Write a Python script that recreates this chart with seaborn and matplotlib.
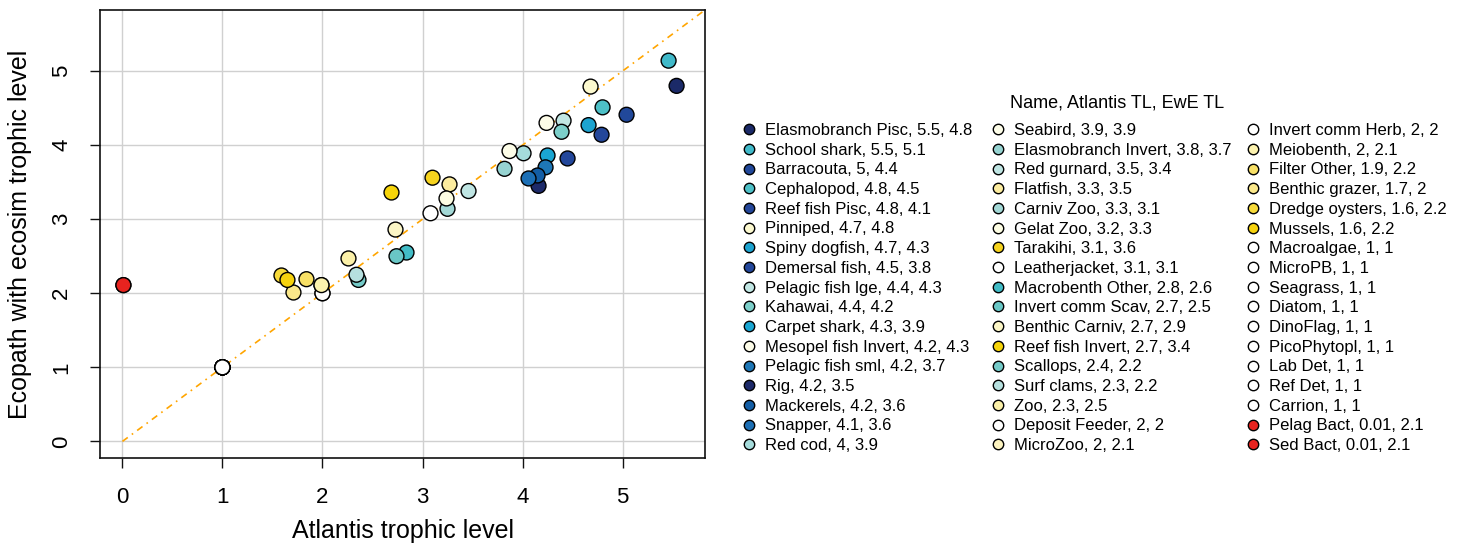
import numpy as np
import pandas as pd
import matplotlib
matplotlib.use("Agg")
import matplotlib.pyplot as plt
from matplotlib.lines import Line2D
import seaborn as sns

sns.set_style("white")
plt.rcParams['font.family'] = ['Liberation Sans', 'DejaVu Sans']
plt.rcParams['text.color'] = 'black'
plt.rcParams['axes.labelcolor'] = 'black'
plt.rcParams['xtick.color'] = 'black'
plt.rcParams['ytick.color'] = 'black'

names = ["Elasmobranch Pisc", "School shark", "Barracouta", "Cephalopod", "Reef fish Pisc",
         "Pinniped", "Spiny dogfish", "Demersal fish", "Pelagic fish lge", "Kahawai",
         "Carpet shark", "Mesopel fish Invert", "Pelagic fish sml", "Rig", "Mackerels",
         "Snapper", "Red cod",
         "Seabird", "Elasmobranch Invert", "Red gurnard", "Flatfish", "Carniv Zoo",
         "Gelat Zoo", "Tarakihi", "Leatherjacket", "Macrobenth Other", "Invert comm Scav",
         "Benthic Carniv", "Reef fish Invert", "Scallops", "Surf clams", "Zoo",
         "Deposit Feeder", "MicroZoo",
         "Invert comm Herb", "Meiobenth", "Filter Other", "Benthic grazer", "Dredge oysters",
         "Mussels", "Macroalgae", "MicroPB", "Seagrass", "Diatom", "DinoFlag",
         "PicoPhytopl", "Lab Det", "Ref Det", "Carrion", "Pelag Bact", "Sed Bact"]

atlantis_tl = [5.54, 5.46, 5.04, 4.80, 4.79, 4.68, 4.66, 4.45, 4.41, 4.39,
               4.25, 4.24, 4.23, 4.16, 4.15, 4.06, 4.01,
               3.87, 3.82, 3.46, 3.27, 3.25, 3.24, 3.10, 3.08, 2.84, 2.74,
               2.73, 2.69, 2.36, 2.34, 2.26, 2.00, 1.99,
               2.00, 1.99, 1.84, 1.71, 1.59, 1.65, 1, 1, 1, 1, 1,
               1, 1, 1, 1, 0.01, 0.01]

ewe_tl = [4.80, 5.14, 4.41, 4.51, 4.14, 4.79, 4.27, 3.82, 4.33, 4.18,
          3.86, 4.30, 3.70, 3.45, 3.59, 3.55, 3.89,
          3.92, 3.68, 3.38, 3.47, 3.14, 3.28, 3.56, 3.08, 2.55, 2.50,
          2.86, 3.36, 2.18, 2.25, 2.47, 2.00, 2.11,
          2.00, 2.11, 2.19, 2.01, 2.24, 2.18, 1, 1, 1, 1, 1,
          1, 1, 1, 1, 2.11, 2.11]

atlantis_lbl = ["5.5", "5.5", "5", "4.8", "4.8", "4.7", "4.7", "4.5", "4.4", "4.4",
                "4.3", "4.2", "4.2", "4.2", "4.2", "4.1", "4",
                "3.9", "3.8", "3.5", "3.3", "3.3", "3.2", "3.1", "3.1", "2.8", "2.7",
                "2.7", "2.7", "2.4", "2.3", "2.3", "2", "2",
                "2", "2", "1.9", "1.7", "1.6", "1.6", "1", "1", "1", "1", "1",
                "1", "1", "1", "1", "0.01", "0.01"]

ewe_lbl = ["4.8", "5.1", "4.4", "4.5", "4.1", "4.8", "4.3", "3.8", "4.3", "4.2",
           "3.9", "4.3", "3.7", "3.5", "3.6", "3.6", "3.9",
           "3.9", "3.7", "3.4", "3.5", "3.1", "3.3", "3.6", "3.1", "2.6", "2.5",
           "2.9", "3.4", "2.2", "2.2", "2.5", "2", "2.1",
           "2", "2.1", "2.2", "2", "2.2", "2.2", "1", "1", "1", "1", "1",
           "1", "1", "1", "1", "2.1", "2.1"]

colors = ["#1b2a68", "#40b9c9", "#21489a", "#4dc0c7", "#24479a", "#fcf9cf", "#1ca3d0",
          "#23479b", "#c1e6e3", "#7ccfca", "#1aa6d3", "#fdfce8", "#1e77b7", "#1d2a6a",
          "#135ea6", "#1c6fb5", "#a5dbdb",
          "#fdfde8", "#97d4d2", "#bfe5e3", "#fcec9f", "#a3d8d6", "#fdfde3", "#f6d31e",
          "#ffffff", "#42bcc6", "#69c7c6", "#fcf6c6", "#f6d40a", "#74cac8", "#b6e0df",
          "#fbf0a8", "#ffffff", "#fdf4c0",
          "#ffffff", "#fcf2ae", "#f8e066", "#fbe88a", "#f7da3a", "#f6d20e", "#ffffff",
          "#ffffff", "#ffffff", "#ffffff", "#ffffff", "#ffffff", "#ffffff", "#ffffff",
          "#ffffff", "#e8231f", "#e8231f"]

legend_title = "Name, Atlantis TL, EwE TL"
x_label = "Atlantis trophic level"
y_label = "Ecopath with ecosim trophic level"

labels = [f"{n}, {a}, {e}" for n, a, e in zip(names, atlantis_lbl, ewe_lbl)]
df = pd.DataFrame({"label": labels, "atlantis": atlantis_tl, "ewe": ewe_tl})
palette = dict(zip(labels, colors))

W, H = 1458, 557
fig = plt.figure(figsize=(W / 100, H / 100), dpi=100)
ax = fig.add_axes([100 / W, (H - 458) / H, 605 / W, 448 / H])

lim = (-0.224, 5.824)
ax.set_xlim(lim)
ax.set_ylim(lim)
ticks = [0, 1, 2, 3, 4, 5]
ax.set_xticks(ticks)
ax.set_yticks(ticks)
ax.grid(True, color="#d0d0d0", linewidth=1.0)
ax.set_axisbelow(True)

ax.plot([0, 7], [0, 7], color="orange", linewidth=1.2, linestyle=(0, (4, 3, 1, 3)),
        zorder=2)

sns.scatterplot(data=df, x="atlantis", y="ewe", hue="label", hue_order=labels,
                palette=palette, s=115, edgecolor="black", linewidth=1.0,
                legend=False, zorder=3, ax=ax)

for sp in ax.spines.values():
    sp.set_color("#111111")
    sp.set_linewidth(1.2)

ax.tick_params(axis="both", direction="out", length=7, width=1.0, color="#111111",
               labelsize=16, labelcolor="black", bottom=True, left=True)
ax.tick_params(axis="x", pad=14)
ax.tick_params(axis="y", pad=13)
for t in ax.get_yticklabels():
    t.set_rotation(90)
    t.set_va("center")
ax.set_xlabel(x_label, fontsize=18, labelpad=8, color="black")
ax.set_ylabel(y_label, fontsize=18, labelpad=14, color="black")

handles = [Line2D([], [], marker="o", linestyle="none", markersize=7.5,
                  markerfacecolor=c, markeredgecolor="black", markeredgewidth=1.0)
           for c in colors]
n_per_col = 17
col_x = [742.3, 991.3, 1246.3]
for k, x0 in enumerate(col_x):
    sl = slice(k * n_per_col, (k + 1) * n_per_col)
    fig.legend(handles[sl], labels[sl], ncol=1, loc="upper left",
               bbox_to_anchor=(x0 / W, (H - 123) / H), frameon=False,
               fontsize=12, labelspacing=0.282, handlelength=0.8, handletextpad=0.56,
               borderpad=0, borderaxespad=0, labelcolor="black")
fig.text(1117 / W, (H - 103) / H, legend_title, ha="center", va="center",
         fontsize=13, color="black")

fig.savefig("out.png", dpi=100)
